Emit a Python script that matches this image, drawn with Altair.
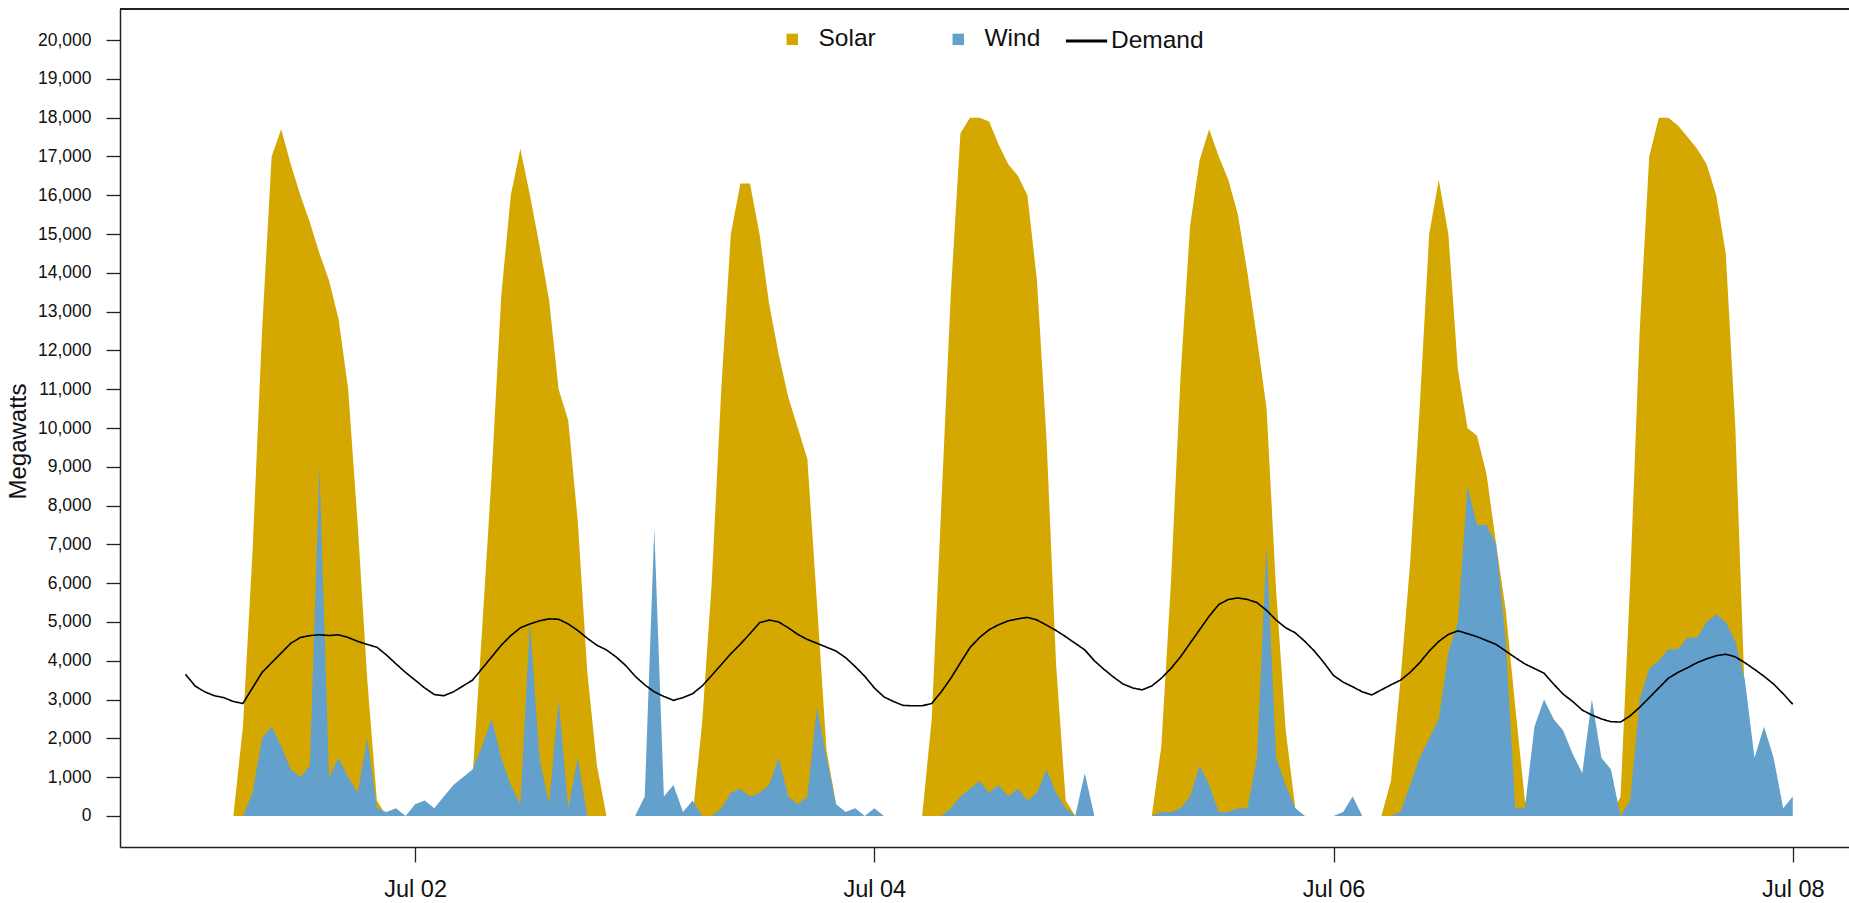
import altair as alt
import pandas as pd

# Hourly readings, hour 0 = Jul 01 00:00, last point = Jul 08 00:00
solar_by_day = [
    [0, 0, 0, 0, 0, 0, 2300, 6800, 12500, 17000, 17700, 16800, 16000, 15300, 14500, 13800, 12800, 11000, 7500, 3500, 400, 0, 0, 0],
    [0, 0, 0, 0, 0, 0, 1000, 4800, 8800, 13400, 16000, 17200, 16000, 14700, 13300, 11000, 10200, 7600, 3700, 1300, 0, 0, 0, 0],
    [0, 0, 0, 0, 0, 0, 2400, 6000, 11000, 15000, 16300, 16300, 15000, 13200, 11900, 10800, 10000, 9200, 5500, 1700, 300, 0, 0, 0],
    [0, 0, 0, 0, 0, 0, 2500, 8000, 13500, 17600, 18000, 18000, 17900, 17300, 16800, 16500, 16000, 13800, 9700, 3900, 400, 0, 0, 0],
    [0, 0, 0, 0, 0, 0, 1800, 6000, 11300, 15200, 16900, 17700, 17000, 16400, 15500, 14000, 12300, 10500, 5800, 2200, 200, 0, 0, 0],
    [0, 0, 0, 0, 0, 0, 900, 3500, 6500, 10500, 15000, 16400, 15000, 11500, 10000, 9800, 8800, 7000, 5300, 2800, 400, 0, 0, 0],
    [0, 0, 0, 0, 0, 0, 500, 6000, 12500, 17000, 18000, 18000, 17800, 17500, 17200, 16800, 16000, 14500, 10000, 3000, 0, 0, 0, 0],
]
solar_last = 0

wind_by_day = [
    [0, 0, 0, 0, 0, 0, 0, 600, 2000, 2300, 1800, 1200, 1000, 1300, 9000, 1000, 1500, 1000, 600, 2000, 200, 100, 200, 0],
    [300, 400, 200, 500, 800, 1000, 1200, 1800, 2500, 1500, 800, 300, 5000, 1500, 300, 3000, 200, 1500, 0, 0, 0, 0, 0, 0],
    [500, 7400, 500, 800, 100, 400, 0, 0, 200, 600, 700, 500, 600, 800, 1500, 500, 300, 500, 2800, 1500, 300, 100, 200, 0],
    [200, 0, 0, 0, 0, 0, 0, 0, 200, 500, 700, 900, 600, 800, 500, 700, 400, 600, 1200, 600, 200, 0, 1100, 0],
    [0, 0, 0, 0, 0, 0, 100, 100, 200, 500, 1300, 800, 100, 100, 200, 200, 1500, 7000, 1500, 800, 200, 0, 0, 0],
    [0, 100, 500, 0, 0, 0, 0, 100, 800, 1500, 2000, 2500, 4200, 5000, 8500, 7500, 7500, 7000, 4500, 200, 200, 2300, 3000, 2500],
    [2200, 1600, 1100, 3000, 1500, 1200, 0, 400, 3000, 3800, 4000, 4300, 4300, 4600, 4600, 5000, 5200, 5000, 4500, 3500, 1500, 2300, 1500, 200],
]
wind_last = 500

demand_by_day = [
    [3650, 3350, 3200, 3100, 3050, 2950, 2900, 3300, 3700, 3950, 4200, 4450, 4600, 4650, 4670, 4650, 4670, 4600, 4500, 4420, 4350, 4150, 3920, 3700],
    [3500, 3300, 3130, 3100, 3200, 3350, 3500, 3800, 4100, 4400, 4650, 4850, 4950, 5030, 5080, 5070, 4950, 4780, 4580, 4400, 4280, 4100, 3880, 3600],
    [3380, 3200, 3080, 2980, 3050, 3150, 3350, 3620, 3900, 4180, 4430, 4700, 4980, 5050, 5000, 4850, 4680, 4550, 4450, 4350, 4250, 4080, 3850, 3600],
    [3300, 3070, 2950, 2850, 2840, 2840, 2900, 3200, 3550, 3950, 4340, 4600, 4800, 4930, 5030, 5080, 5120, 5050, 4920, 4780, 4620, 4450, 4280, 4000],
    [3780, 3580, 3400, 3300, 3250, 3350, 3550, 3800, 4100, 4450, 4800, 5150, 5450, 5580, 5620, 5580, 5500, 5300, 5050, 4850, 4720, 4500, 4250, 3950],
    [3620, 3450, 3330, 3200, 3120, 3250, 3380, 3500, 3700, 3950, 4250, 4500, 4680, 4770, 4700, 4620, 4520, 4420, 4250, 4080, 3920, 3800, 3680, 3400],
    [3140, 2950, 2730, 2600, 2500, 2430, 2420, 2580, 2800, 3050, 3300, 3550, 3700, 3820, 3950, 4050, 4130, 4170, 4100, 3950, 3780, 3600, 3400, 3150],
]
demand_last = 2880

tick_hours = [24, 72, 120, 168]
y_ticks = list(range(0, 20001, 1000))

solar = [v for d in solar_by_day for v in d] + [solar_last]
wind = [v for d in wind_by_day for v in d] + [wind_last]
demand = [v for d in demand_by_day for v in d] + [demand_last]
hours = list(range(len(solar)))

df = pd.DataFrame({"hour": hours, "Solar": solar, "Wind": wind, "Demand": demand})

GOLD = "#D4A800"
BLUE = "#63A0CB"
FRAME = "#222222"
FONT = "Liberation Sans"

W = 1729
H = 838

x_scale = alt.Scale(domain=[-6.85, 173.88], nice=False, zero=False)
y_scale = alt.Scale(domain=[-800, 20800], nice=False, zero=False)

x_axis = alt.Axis(
    values=tick_hours,
    labelExpr="'Jul 0' + (1 + datum.value / 24)",
    title=None, grid=False,
    tickSize=15, tickColor=FRAME, tickWidth=1.3,
    domainColor=FRAME, domainWidth=1.5,
    labelFontSize=23.5, labelFont=FONT, labelColor="#111111",
    labelPadding=34, labelBaseline="alphabetic",
    labelFlush=False, labelOverlap=False,
)
y_axis = alt.Axis(
    values=y_ticks, format=",d",
    title="Megawatts", titleFont=FONT, titleFontSize=24, titleFontWeight="normal",
    titleColor="#111111", titleAngle=-90, titleX=-102, titleY=432,
    titleAlign="center", titleBaseline="middle",
    grid=False,
    tickSize=14, tickColor=FRAME, tickWidth=1.3,
    domainColor=FRAME, domainWidth=1.5,
    labelFontSize=17.5, labelFont=FONT, labelColor="#111111",
    labelPadding=15, labelOverlap=False, labelFlush=False,
)

color_scale = alt.Scale(domain=["Solar", "Wind"], range=[GOLD, BLUE])
color_legend = alt.Legend(
    orient="none", legendX=660, legendY=18, direction="horizontal", title=None,
    symbolType="square", symbolSize=130, symbolStrokeWidth=0, symbolOpacity=1,
    labelFont=FONT, labelFontSize=24.5, labelColor="#111111",
    labelOffset=14, columnPadding=70, padding=0,
)

base = alt.Chart(df)

solar_area = base.transform_calculate(series="'Solar'").mark_area(opacity=1, interpolate="linear").encode(
    x=alt.X("hour:Q", scale=x_scale, axis=x_axis),
    y=alt.Y("Solar:Q", scale=y_scale, axis=y_axis),
    y2=alt.datum(0),
    color=alt.Color("series:N", scale=color_scale, legend=color_legend),
)

wind_area = base.transform_calculate(series="'Wind'").mark_area(opacity=1, interpolate="linear").encode(
    x=alt.X("hour:Q", scale=x_scale, axis=x_axis),
    y=alt.Y("Wind:Q", scale=y_scale, axis=y_axis),
    y2=alt.datum(0),
    color=alt.Color("series:N", scale=color_scale, legend=color_legend),
)

demand_line = base.transform_calculate(series="'Demand'").mark_line(color="black", strokeWidth=1.6).encode(
    x=alt.X("hour:Q", scale=x_scale, axis=x_axis),
    y=alt.Y("Demand:Q", scale=y_scale, axis=y_axis),
    strokeDash=alt.StrokeDash(
        "series:N",
        scale=alt.Scale(domain=["Demand"], range=[[1, 0]]),
        legend=alt.Legend(
            orient="none", legendX=944, legendY=9.5, title=None,
            symbolType="stroke", symbolStrokeColor="black", symbolStrokeWidth=3,
            symbolSize=1700, labelFont=FONT, labelFontSize=24.5, labelColor="#111111",
            labelOffset=2, padding=0,
        ),
    ),
)

top_frame = alt.Chart(df).mark_rule(color=FRAME, strokeWidth=1.5).encode(
    x=alt.value(0), x2=alt.value(W), y=alt.value(0)
)

chart = alt.layer(solar_area, wind_area, demand_line, top_frame).properties(
    width=W, height=H,
    padding={"left": 120, "top": 9, "right": 0, "bottom": 55},
    autosize=alt.AutoSizeParams(type="none"),
).configure_view(strokeWidth=0).configure(font=FONT)

chart.save("out.html", embed_options={"renderer": "svg", "actions": False})
